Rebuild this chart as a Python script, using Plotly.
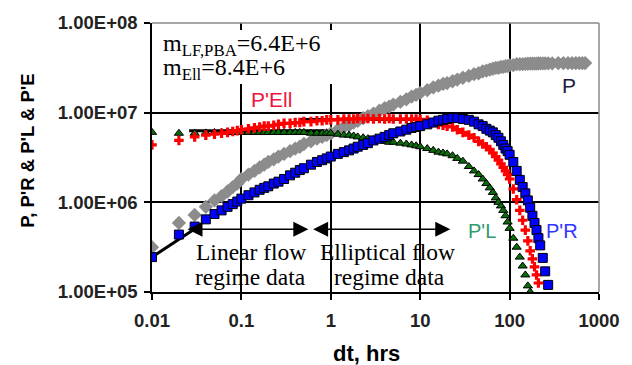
import math
import plotly.graph_objects as go

# ---------------- data ----------------
dt = [0.01, 0.02, 0.03, 0.04, 0.05, 0.06, 0.07, 0.08, 0.09, 0.1,
      0.12, 0.14, 0.16, 0.18, 0.2, 0.23, 0.26, 0.3, 0.35, 0.4,
      0.45, 0.5, 0.6, 0.7, 0.8, 0.9, 1.0, 1.2, 1.4, 1.6,
      1.8, 2.0, 2.3, 2.6, 3.0, 3.5, 4.0, 4.5, 5.0, 6.0,
      7.0, 8.0, 9.0, 10, 12, 14, 16, 18, 20, 23,
      26, 30, 35, 40, 45, 50, 55, 60, 65, 70,
      75, 80, 85, 90, 95, 100, 110, 120, 130, 140,
      150, 160, 170, 180, 190, 200, 210, 220, 235, 250,
      270, 300, 350, 400, 450, 500, 550, 600, 650, 700]

P = [3.16e5, 5.89e5, 7.24e5, 8.91e5, 1.05e6, 1.17e6, 1.32e6, 1.48e6, 1.62e6, 1.82e6,
     2.04e6, 2.24e6, 2.45e6, 2.63e6, 2.82e6, 3.02e6, 3.24e6, 3.47e6, 3.72e6, 3.98e6,
     4.17e6, 4.47e6, 4.79e6, 5.13e6, 5.37e6, 5.62e6, 5.89e6, 6.46e6, 6.92e6, 7.24e6,
     7.76e6, 8.13e6, 8.71e6, 9.12e6, 9.77e6, 1.05e7, 1.12e7, 1.17e7, 1.23e7, 1.32e7,
     1.41e7, 1.51e7, 1.58e7, 1.66e7, 1.78e7, 1.91e7, 2.00e7, 2.09e7, 2.14e7, 2.24e7,
     2.34e7, 2.45e7, 2.57e7, 2.69e7, 2.75e7, 2.88e7, 2.95e7, 3.02e7, 3.09e7, 3.16e7,
     3.16e7, 3.24e7, 3.24e7, 3.31e7, 3.31e7, 3.39e7, 3.39e7, 3.47e7, 3.47e7, 3.47e7,
     3.50e7, 3.51e7, 3.52e7, 3.52e7, 3.53e7, 3.53e7, 3.54e7, 3.54e7, 3.54e7, 3.55e7,
     3.55e7, 3.55e7, 3.56e7, 3.56e7, 3.56e7, 3.56e7, 3.57e7, 3.57e7, 3.57e7, 3.57e7]

PR = [2.45e5, 4.37e5, 5.37e5, 6.46e5, 7.41e5, 8.13e5, 8.91e5, 9.55e5, 1.02e6, 1.10e6,
      1.20e6, 1.29e6, 1.38e6, 1.45e6, 1.51e6, 1.62e6, 1.70e6, 1.82e6, 2.00e6, 2.14e6,
      2.29e6, 2.40e6, 2.63e6, 2.82e6, 2.95e6, 3.09e6, 3.24e6, 3.47e6, 3.63e6, 3.80e6,
      3.98e6, 4.17e6, 4.37e6, 4.57e6, 4.90e6, 5.13e6, 5.37e6, 5.62e6, 5.89e6, 6.17e6,
      6.46e6, 6.76e6, 6.92e6, 7.08e6, 7.41e6, 7.76e6, 8.13e6, 8.32e6, 8.51e6, 8.71e6,
      8.71e6, 8.51e6, 8.32e6, 7.94e6, 7.41e6, 7.08e6, 6.61e6, 6.31e6, 6.03e6, 5.62e6,
      5.25e6, 4.79e6, 4.37e6, 3.98e6, 3.72e6, 3.39e6, 2.82e6, 2.24e6, 1.78e6, 1.48e6,
      1.26e6, 1.05e6, 8.71e5, 7.08e5, 5.89e5, 4.90e5, 3.98e5, 3.31e5, 2.40e5, 1.70e5,
      1.20e5, None, None, None, None, None, None, None, None, None]

PEll = [4.37e6, 4.90e6, 5.37e6, 5.62e6, 5.75e6, 5.89e6, 6.03e6, 6.17e6, 6.31e6, 6.46e6,
        6.61e6, 6.76e6, 6.92e6, 7.08e6, 7.08e6, 7.24e6, 7.41e6, 7.59e6, 7.59e6, 7.76e6,
        7.76e6, 7.94e6, 7.94e6, 8.13e6, 8.13e6, 8.32e6, 8.32e6, 8.32e6, 8.51e6, 8.51e6,
        8.5e6, 8.6e6, 8.5e6, 8.6e6, 8.5e6, 8.6e6, 8.5e6, 8.6e6, 8.5e6, 8.5e6,
        8.5e6, 8.5e6, 8.5e6, 8.4e6, 8.2e6, 7.76e6, 7.41e6, 7.24e6, 7.08e6, 6.92e6,
        6.46e6, 6.03e6, 5.62e6, 5.25e6, 4.79e6, 4.47e6, 4.17e6, 3.89e6, 3.55e6, 3.24e6,
        2.95e6, 2.69e6, 2.45e6, 2.24e6, 2.04e6, 1.82e6, 1.41e6, 1.07e6, 8.13e5, 6.31e5,
        4.90e5, 3.72e5, 2.88e5, 2.34e5, 1.91e5, 1.55e5, 1.26e5, None, None, None,
        None, None, None, None, None, None, None, None, None, None]

PL = [6.03e6, 5.89e6, 5.89e6, 5.95e6, 6.02e6, 6.02e6, 6.02e6, 6.02e6, 6.02e6, 6.02e6,
      6.02e6, 6.02e6, 6.02e6, 6.02e6, 6.02e6, 6.02e6, 6.02e6, 6.02e6, 6.02e6, 6.02e6,
      6.02e6, 6.02e6, 5.9e6, 5.9e6, 5.9e6, 5.9e6, 5.9e6, 5.75e6, 5.62e6, 5.62e6,
      5.50e6, 5.37e6, 5.25e6, 5.13e6, 5.01e6, 4.90e6, 4.79e6, 4.68e6, 4.68e6, 4.57e6,
      4.47e6, 4.37e6, 4.27e6, 4.17e6, 3.98e6, 3.80e6, 3.63e6, 3.55e6, 3.47e6, 3.31e6,
      3.09e6, 2.88e6, 2.51e6, 2.24e6, 2.04e6, 1.82e6, 1.62e6, 1.45e6, 1.29e6, 1.12e6,
      1.00e6, 9.12e5, 8.13e5, 7.08e5, 6.03e5, 5.13e5, 3.98e5, 3.16e5, 2.45e5, 1.95e5,
      1.55e5, 1.17e5, 1.00e5, None, None, None, None, None, None, None,
      None, None, None, None, None, None, None, None, None, None]

# straight-line fits drawn on the plot
lf_fit_t = [0.01, 0.035]
lf_fit_v = [2.45e5, 5.6e5]
mlf_t = [0.026, 1.0]
mlf_v = [6.3e6, 6.3e6]
mell_t = [0.45, 12]
mell_v = [8.4e6, 8.4e6]

# regime arrows (dt start, dt end, level)
linear_arrow = [0.024, 0.56, 5.0e5]
ellip_arrow = [0.61, 21.7, 5.0e5]

y_ticks = [1e5, 1e6, 1e7, 1e8]
y_ticktext = ["1.00E+05", "1.00E+06", "1.00E+07", "1.00E+08"]
x_ticks = [0.01, 0.1, 1, 10, 100, 1000]
x_ticktext = ["0.01", "0.1", "1", "10", "100", "1000"]

# ---------------- layout helpers ----------------
W, H = 632, 365
L, R, T, B = 152, 609, 23, 292


def px(x):
    return (x - L) / (R - L)


def py(y):
    return (B - y) / (B - T)


fig = go.Figure()

# fit lines (under markers)
for tx, vy in [(lf_fit_t, lf_fit_v), (mlf_t, mlf_v), (mell_t, mell_v)]:
    fig.add_trace(go.Scatter(x=tx, y=vy, mode="lines",
                             line=dict(color="black", width=3), hoverinfo="skip"))

fig.add_trace(go.Scatter(x=dt, y=P, mode="markers", name="P",
                         marker=dict(symbol="diamond", size=11, color="#8c8c8c")))
fig.add_trace(go.Scatter(x=dt, y=PL, mode="markers", name="P'L",
                         marker=dict(symbol="triangle-up", size=8, color="#0b6b0b",
                                     line=dict(color="black", width=1))))
fig.add_trace(go.Scatter(x=dt, y=PEll, mode="markers", name="P'Ell",
                         marker=dict(symbol="cross", size=8, color="#ff0000")))
fig.add_trace(go.Scatter(x=dt, y=PR, mode="markers", name="P'R",
                         marker=dict(symbol="square", size=9, color="#0000ff",
                                     line=dict(color="black", width=1))))

tickfont = dict(family="Liberation Sans, Arial, sans-serif", size=18.5, color="#222", weight="bold")

fig.update_layout(
    width=W, height=H,
    margin=dict(l=L, r=W - R, t=T, b=H - B),
    paper_bgcolor="white", plot_bgcolor="white",
    showlegend=False,
    xaxis=dict(type="log", range=[-2, 3], tickvals=x_ticks, ticktext=x_ticktext,
               showgrid=True, gridcolor="black", gridwidth=1.5,
               showline=True, linecolor="black", linewidth=1.5,
               ticks="outside", ticklen=6, tickcolor="black", tickwidth=1.5,
               tickfont=tickfont, ticklabelstandoff=5, zeroline=False),
    yaxis=dict(type="log", range=[5, 8], tickvals=y_ticks, ticktext=y_ticktext,
               showgrid=True, gridcolor="black", gridwidth=1.5,
               showline=True, linecolor="black", linewidth=1.5,
               ticks="outside", ticklen=6, tickcolor="black", tickwidth=1.5,
               tickfont=tickfont, ticklabelstandoff=3, zeroline=False),
)

# gray top / right frame and white text-box background
fig.add_shape(type="line", xref="paper", yref="paper", x0=0, x1=1, y0=1, y1=1,
              line=dict(color="#8a8a8a", width=1.5), layer="above")
fig.add_shape(type="line", xref="paper", yref="paper", x0=1, x1=1, y0=0, y1=1,
              line=dict(color="#8a8a8a", width=1.5), layer="above")
fig.add_shape(type="rect", xref="paper", yref="paper",
              x0=px(154), x1=px(345), y0=py(84), y1=py(30),
              fillcolor="white", line=dict(width=0), layer="above")

serif = "Liberation Serif, Times New Roman, serif"
sans = "Liberation Sans, Arial, sans-serif"


def label(xp, yp, text, family, size, color, anchor="center", **kw):
    d = dict(x=px(xp), y=py(yp), xref="paper", yref="paper", xanchor=anchor, yanchor="middle",
             text=text, showarrow=False, font=dict(family=family, size=size, color=color))
    d["font"].update(kw.pop("font_extra", {}))
    d.update(kw)
    return d


ann = [
    label(161, 45, "m<sub>LF,PBA</sub>=6.4E+6", serif, 24, "black", anchor="left"),
    label(161, 69, "m<sub>Ell</sub>=8.4E+6", serif, 24, "black", anchor="left"),
    label(253, 252, "Linear flow", serif, 23.5, "black"),
    label(253, 277, "regime data", serif, 23.5, "black"),
    label(393, 252, "Elliptical flow", serif, 23.5, "black"),
    label(395, 277, "regime data", serif, 23.5, "black"),
    label(274, 99, "P'Ell", sans, 21, "#f0143c"),
    label(578, 85, "P", sans, 21, "#1c1c40"),
    label(489, 231, "P'L", sans, 20, "#2f9a6e"),
    label(571, 231, "P'R", sans, 20, "#3333ff"),
    label(24, 151, "P, P'R & P'L & P'E", sans, 18.5, "black", textangle=-90,
          font_extra=dict(weight="bold")),
    label(371, 353, "dt, hrs", sans, 22, "black", font_extra=dict(weight="bold")),
]

# regime arrows
for a in [linear_arrow, ellip_arrow]:
    ann.append(dict(x=math.log10(a[1]), y=math.log10(a[2]), ax=math.log10(a[0]), ay=math.log10(a[2]),
                    xref="x", yref="y", axref="x", ayref="y", text="", showarrow=True,
                    arrowhead=2, startarrowhead=2, arrowside="end+start",
                    arrowsize=2, arrowwidth=1.5, arrowcolor="black"))

fig.update_layout(annotations=ann)

fig.write_html("out.html")
